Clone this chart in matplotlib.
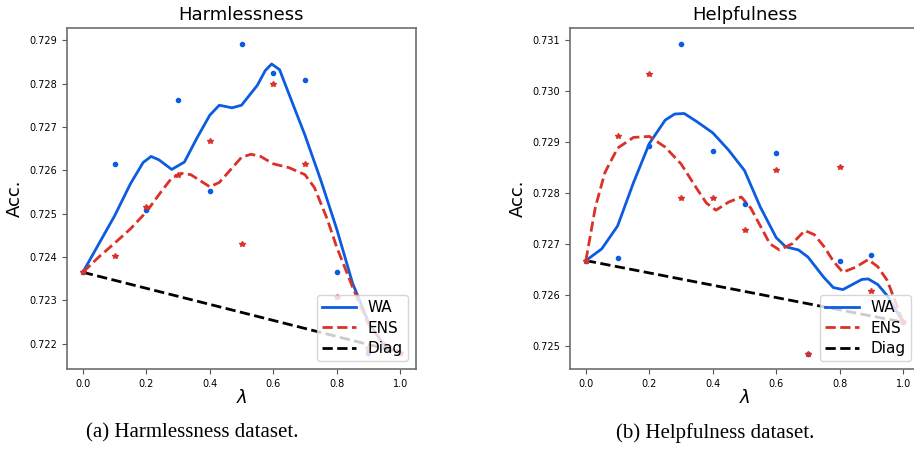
import numpy as np
import matplotlib
matplotlib.use('Agg')
import matplotlib.pyplot as plt

# lambda values of the evaluated points
lam = [0.0, 0.1, 0.2, 0.3, 0.4, 0.5, 0.6, 0.7, 0.8, 0.9, 1.0]

# Harmlessness: measured points
harm_wa_pts = [0.72365, 0.72614, 0.72508, 0.72763, 0.72552, 0.72892, 0.72825, 0.72809, 0.72365, 0.72179, 0.72180]
harm_ens_pts = [0.72365, 0.72402, 0.72515, 0.72590, 0.72667, 0.72429, 0.72800, 0.72614, 0.72307, 0.72190, 0.72180]
# Harmlessness: smoothed curves
harm_wa_x = [0, .05, .1, .15, .19, .215, .24, .28, .32, .36, .4, .43, .47, .5, .55, .575, .595, .62, .65, .7, .75, .8,
             .85, .9, .95, 1.0]
harm_wa_y = [.72365, .72430, .72495, .72569, .72618, .72632, .72624, .72602, .72619, .72675, .72727, .72750, .72744,
             .72750, .72796, .72830, .72845, .72832, .72775, .72681, .72577, .72465, .72340, .72250, .72195, .72180]
harm_ens_x = [0, .05, .1, .15, .2, .25, .28, .31, .34, .37, .4, .43, .47, .5, .53, .56, .6, .65, .7, .73, .77, .8, .85,
              .9, .95, 1.0]
harm_ens_y = [.72365, .72400, .72432, .72465, .72504, .72554, .72582, .72593, .72590, .72576, .72562, .72572, .72605,
              .72630, .72637, .72632, .72615, .72606, .72590, .72560, .72488, .72423, .72331, .72246, .72200, .72180]
harm_diag = [0.72365, 0.72180]

# Helpfulness: measured points
help_wa_pts = [0.72667, 0.72673, 0.72893, 0.73093, 0.72883, 0.72779, 0.72878, 0.72484, 0.72667, 0.72678, 0.72546]
help_ens_pts = [0.72667, 0.72911, 0.73033, 0.72789, 0.72789, 0.72728, 0.72845, 0.72484, 0.72850, 0.72607, 0.72546]
# Helpfulness: smoothed curves
help_wa_x = [0, .05, .1, .15, .2, .25, .28, .31, .35, .4, .45, .5, .55, .6, .63, .67, .7, .75, .78, .81, .84, .87, .89,
             .92, .95, 1.0]
help_wa_y = [.72667, .72690, .72735, .72820, .72897, .72943, .72955, .72956, .72940, .72918, .72884, .72844, .72772,
             .72712, .72694, .72688, .72674, .72634, .72614, .72610, .72620, .72630, .72631, .72620, .72598, .72546]
help_ens_x = [0, .03, .06, .1, .15, .2, .25, .3, .35, .38, .41, .45, .49, .52, .55, .58, .61, .65, .69, .72, .75, .78,
              .81, .85, .89, .92, .95, 1.0]
help_ens_y = [.72667, .72772, .72840, .72888, .72909, .72911, .72890, .72857, .72808, .72780, .72766, .72782, .72792,
              .72770, .72735, .72700, .72688, .72700, .72726, .72718, .72695, .72666, .72644, .72654, .72669, .72655,
              .72628, .72546]
help_diag = [0.72667, 0.72546]

blue = '#0b5ce0'
red = '#dc3128'

fig = plt.figure(figsize=(9.14, 4.53), dpi=100)
W, H = 914.0, 453.0
ax1 = fig.add_axes([67 / W, (H - 369) / H, 349 / W, 341 / H])
ax2 = fig.add_axes([570 / W, (H - 369) / H, 349 / W, 341 / H])


def draw(ax, title, wa_x, wa_y, ens_x, ens_y, diag, wa_pts, ens_pts, ylim):
    ax.plot(wa_x, wa_y, color=blue, lw=2.0, label='WA')
    ax.plot(ens_x, ens_y, color=red, lw=2.0, ls='--', label='ENS')
    ax.plot([0, 1], diag, color='black', lw=2.0, ls='--', label='Diag')
    ax.plot(lam, wa_pts, 'o', color=blue, ms=3, ls='none')
    ax.plot(lam, ens_pts, '*', color=red, ms=4, ls='none')
    ax.set_xlim(-0.05, 1.05)
    ax.set_ylim(*ylim)
    ax.set_xticks([0.0, 0.2, 0.4, 0.6, 0.8, 1.0])
    ax.tick_params(labelsize=7, color='#555555')
    for s in ax.spines.values():
        s.set_color('#6e6e6e')
        s.set_linewidth(1.2)
    ax.set_title(title, fontsize=13, pad=6)
    ax.set_xlabel(r'$\lambda$', fontsize=13, labelpad=0)
    ax.set_ylabel('Acc.', fontsize=13)
    ax.legend(loc='lower right', fontsize=11, handlelength=2.2, borderpad=0.35, labelspacing=0.35)


draw(ax1, 'Harmlessness', harm_wa_x, harm_wa_y, harm_ens_x, harm_ens_y, harm_diag,
     harm_wa_pts, harm_ens_pts, (0.72142, 0.72928))
draw(ax2, 'Helpfulness', help_wa_x, help_wa_y, help_ens_x, help_ens_y, help_diag,
     help_wa_pts, help_ens_pts, (0.72454, 0.73124))

fig.text(192 / W, 1 - 433 / H, '(a) Harmlessness dataset.', family='Liberation Serif',
         fontsize=15, ha='center', va='center')
fig.text(715 / W, 1 - 433 / H, '(b) Helpfulness dataset.', family='Liberation Serif',
         fontsize=15, ha='center', va='center')

fig.savefig('out.png', dpi=100)
